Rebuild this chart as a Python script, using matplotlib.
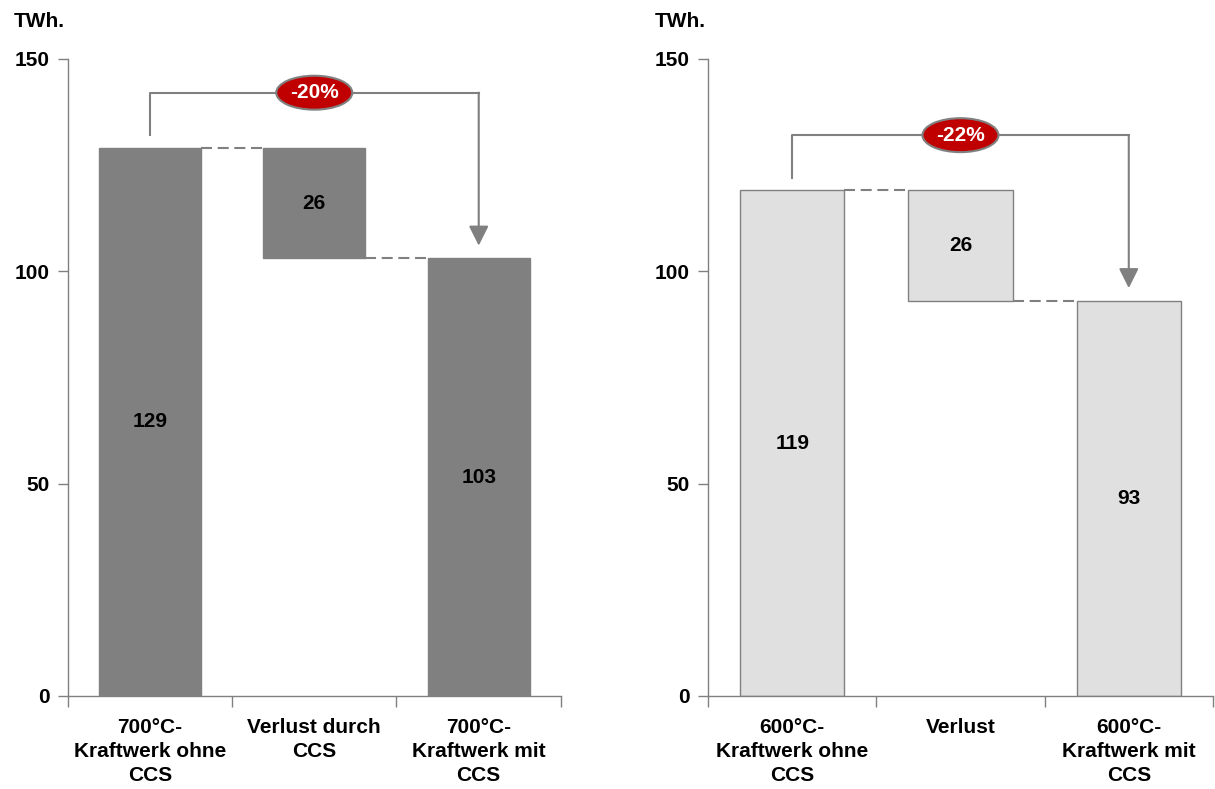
"""Waterfall comparison: net generation with and without CCS."""

import matplotlib.pyplot as plt
from matplotlib.patches import FancyArrowPatch

plt.rcParams["font.family"] = ["Liberation Sans", "DejaVu Sans"]
plt.rcParams["font.weight"] = "bold"

left_categories = ["700°C-\nKraftwerk ohne\nCCS", "Verlust durch\nCCS", "700°C-\nKraftwerk mit\nCCS"]
left_values = [129, 26, 103]
left_change = "-20%"

right_categories = ["600°C-\nKraftwerk ohne\nCCS", "Verlust", "600°C-\nKraftwerk mit\nCCS"]
right_values = [119, 26, 93]
right_change = "-22%"

unit_label = "TWh."
y_ticks = [0, 50, 100, 150]

GRAY = "#808080"
RED = "#c00000"
FS = 15


def draw_waterfall(ax, categories, values, change, face, edge):
    start, loss, end = values
    width = 0.62
    bottoms = [0, start - loss, 0]
    heights = [start, loss, end]
    ax.bar(range(3), heights, bottom=bottoms, width=width, color=face,
           edgecolor=edge, linewidth=1.0, zorder=2)

    for i, (b, h) in enumerate(zip(bottoms, heights)):
        ax.text(i, b + h / 2, f"{h:g}", ha="center", va="center",
                fontsize=FS, fontweight="bold", color="black", zorder=3)

    # dashed connectors between bars
    half = width / 2
    dash = (0, (5.3, 2.7))
    ax.plot([half, 1 - half], [start, start], ls=dash, color=GRAY, lw=1.5, zorder=1)
    ax.plot([1 + half, 2 - half], [end, end], ls=dash, color=GRAY, lw=1.5, zorder=1)

    # bracket with arrow
    top = start + 13
    ax.plot([0, 0, 2], [start + 3, top, top], color=GRAY, lw=1.5, zorder=1)
    arrow = FancyArrowPatch((2, top), (2, end + 3), arrowstyle="-|>,head_length=12,head_width=6",
                            color=GRAY, lw=1.5, shrinkA=0, shrinkB=0, zorder=1)
    ax.add_patch(arrow)
    ax.text(1, top, change, ha="center", va="center", fontsize=FS, fontweight="bold",
            color="white", zorder=4,
            bbox=dict(boxstyle="ellipse,pad=0.12", fc=RED, ec=GRAY, lw=1.5))

    ax.set_xlim(-0.5, 2.5)
    ax.set_ylim(0, 150)
    ax.set_yticks(y_ticks)
    ax.set_yticklabels([str(t) for t in y_ticks], fontsize=FS, fontweight="bold")
    ax.set_xticks([-0.5, 0.5, 1.5, 2.5])
    ax.set_xticklabels([])
    ax.set_xticks(range(3), minor=True)
    ax.set_xticklabels(categories, minor=True, fontsize=FS, fontweight="bold",
                       linespacing=1.33)
    ax.tick_params(axis="x", which="minor", length=0, pad=16)
    ax.tick_params(axis="x", which="major", length=8, color=GRAY, width=1)
    ax.tick_params(axis="y", length=7, color=GRAY, width=1, pad=6)
    for side in ("top", "right"):
        ax.spines[side].set_visible(False)
    for side in ("left", "bottom"):
        ax.spines[side].set_color(GRAY)
        ax.spines[side].set_linewidth(1.0)


fig = plt.figure(figsize=(12.15, 7.89), dpi=100)
ax1 = fig.add_axes([0.0556, 0.1179, 0.4061, 0.8077])
ax2 = fig.add_axes([0.5827, 0.1179, 0.4156, 0.8077])

draw_waterfall(ax1, left_categories, left_values, left_change, GRAY, GRAY)
draw_waterfall(ax2, right_categories, right_values, right_change, "#e0e0e0", GRAY)

fig.text(0.0115, 0.9725, unit_label, ha="left", va="center", fontsize=15, fontweight="bold")
fig.text(0.539, 0.9725, unit_label, ha="left", va="center", fontsize=15, fontweight="bold")

fig.savefig("out.png", dpi=100)
